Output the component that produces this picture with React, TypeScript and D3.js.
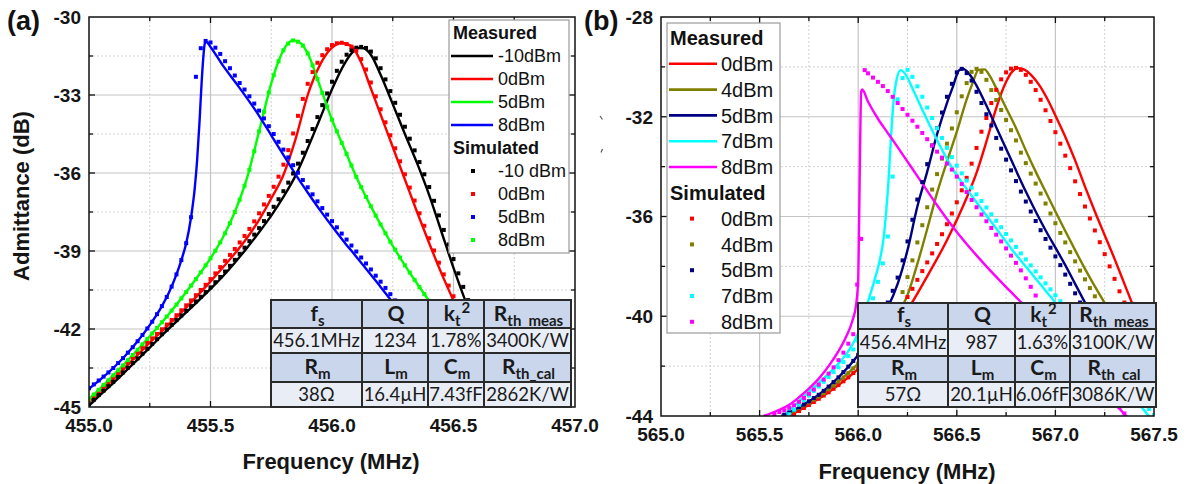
import React, { useEffect, useRef } from "react";
import * as d3 from "d3";

type Pt = [number, number];
type Head = [string, string, string];

// ---------------- Panel (a): ~456 MHz resonator ----------------
const A_X_TICKS = [455.0, 455.5, 456.0, 456.5, 457.0];
const A_X_MINOR = [455.25, 455.75, 456.25, 456.75];
const A_Y_TICKS = [-30, -33, -36, -39, -42, -45];
const A_Y_MINOR = [-31.5, -34.5, -37.5, -40.5, -43.5];

const A_MEAS_LABELS = ["-10dBm", "0dBm", "5dBm", "8dBm"];
const A_MEAS_COLORS = ["#000000", "#ff0000", "#00ff00", "#0000ff"];
const A_SIM_LABELS = ["-10 dBm", "0dBm", "5dBm", "8dBm"];
const A_SIM_COLORS = ["#000000", "#ff0000", "#0000ff", "#00ff00"];

const A_MEAS_M10: Pt[] = [[455.00,-44.95],[455.05,-44.50],[455.10,-44.08],[455.15,-43.63],[455.20,-43.18],[455.25,-42.72],[455.30,-42.25],[455.35,-41.80],[455.40,-41.36],[455.45,-40.92],[455.50,-40.46],[455.55,-39.98],[455.60,-39.45],[455.65,-38.88],[455.70,-38.28],[455.75,-37.64],[455.80,-36.92],[455.85,-36.10],[455.90,-35.05],[455.95,-33.92],[456.00,-32.78],[456.05,-31.82],[456.08,-31.40],[456.11,-31.19],[456.13,-31.20],[456.16,-31.45],[456.20,-32.22],[456.25,-33.35],[456.30,-34.50],[456.35,-35.62],[456.40,-36.85],[456.45,-38.25],[456.50,-39.65],[456.55,-40.95],[456.60,-42.15],[456.65,-43.25],[456.70,-44.25],[456.75,-45.15]];
const A_MEAS_0: Pt[] = [[455.00,-44.80],[455.05,-44.37],[455.10,-43.93],[455.15,-43.47],[455.20,-43.00],[455.25,-42.52],[455.30,-42.08],[455.35,-41.63],[455.40,-41.17],[455.45,-40.68],[455.50,-40.17],[455.55,-39.64],[455.60,-39.10],[455.65,-38.50],[455.70,-37.80],[455.75,-36.98],[455.80,-36.08],[455.85,-34.70],[455.90,-33.00],[455.95,-31.85],[456.00,-31.18],[456.04,-31.00],[456.08,-31.12],[456.12,-31.75],[456.16,-32.75],[456.20,-33.75],[456.25,-35.00],[456.30,-36.25],[456.35,-37.50],[456.40,-38.70],[456.45,-39.85],[456.50,-40.90],[456.55,-41.90],[456.60,-42.85],[456.65,-43.75],[456.70,-44.60],[456.75,-45.40]];
const A_MEAS_5: Pt[] = [[455.00,-44.70],[455.05,-44.25],[455.10,-43.78],[455.15,-43.30],[455.20,-42.80],[455.25,-42.28],[455.30,-41.74],[455.35,-41.18],[455.40,-40.58],[455.45,-39.95],[455.50,-39.28],[455.55,-38.50],[455.60,-37.50],[455.65,-36.20],[455.70,-34.40],[455.75,-32.55],[455.78,-31.70],[455.81,-31.12],[455.84,-30.90],[455.87,-31.00],[455.90,-31.40],[455.95,-32.65],[456.00,-33.95],[456.05,-35.05],[456.10,-36.15],[456.15,-37.10],[456.20,-37.98],[456.25,-38.80],[456.30,-39.55],[456.35,-40.25],[456.40,-40.92],[456.45,-41.55],[456.50,-42.15],[456.55,-42.75],[456.60,-43.30],[456.65,-43.85],[456.70,-44.40],[456.75,-44.90],[456.80,-45.40]];
const A_MEAS_8: Pt[] = [[455.00,-44.30],[455.05,-43.92],[455.10,-43.50],[455.15,-43.02],[455.20,-42.47],[455.25,-41.85],[455.30,-41.12],[455.33,-40.58],[455.36,-39.90],[455.38,-39.35],[455.40,-38.70],[455.42,-37.70],[455.435,-36.60],[455.445,-35.50],[455.455,-34.00],[455.463,-32.60],[455.470,-31.60],[455.477,-31.00],[455.482,-30.95],[455.50,-31.15],[455.55,-31.85],[455.60,-32.48],[455.65,-33.12],[455.70,-33.80],[455.75,-34.55],[455.80,-35.30],[455.85,-36.05],[455.90,-36.75],[455.95,-37.42],[456.00,-38.05],[456.05,-38.65],[456.10,-39.22],[456.15,-39.80],[456.20,-40.38],[456.25,-40.98],[456.30,-41.60],[456.35,-42.20],[456.40,-42.80],[456.45,-43.40],[456.50,-44.00],[456.55,-44.60],[456.60,-45.20]];

const A_SIM_M10: Pt[] = [[455.00,-44.90],[455.02,-44.72],[455.04,-44.54],[455.06,-44.37],[455.08,-44.20],[455.10,-44.03],[455.12,-43.85],[455.14,-43.67],[455.16,-43.49],[455.18,-43.31],[455.20,-43.13],[455.22,-42.95],[455.24,-42.76],[455.26,-42.57],[455.28,-42.39],[455.30,-42.20],[455.32,-42.02],[455.34,-41.84],[455.36,-41.66],[455.38,-41.48],[455.40,-41.30],[455.42,-41.12],[455.44,-40.94],[455.46,-40.76],[455.48,-40.58],[455.50,-40.40],[455.52,-40.20],[455.54,-40.00],[455.56,-39.79],[455.58,-39.57],[455.60,-39.34],[455.62,-39.11],[455.64,-38.87],[455.66,-38.62],[455.68,-38.37],[455.70,-38.12],[455.72,-37.85],[455.74,-37.58],[455.76,-37.30],[455.78,-37.01],[455.80,-36.70],[455.82,-36.37],[455.84,-36.02],[455.86,-35.64],[455.88,-35.22],[455.90,-34.77],[455.92,-34.31],[455.94,-33.85],[455.96,-33.39],[455.98,-32.94],[456.00,-32.49],[456.02,-32.07],[456.04,-31.72],[456.06,-31.45],[456.08,-31.27],[456.10,-31.18],[456.12,-31.15],[456.14,-31.19],[456.16,-31.33],[456.18,-31.59],[456.20,-31.97],[456.22,-32.40],[456.24,-32.85],[456.26,-33.30],[456.28,-33.76],[456.30,-34.22],[456.32,-34.68],[456.34,-35.13],[456.36,-35.58],[456.38,-36.05],[456.40,-36.54],[456.42,-37.07],[456.44,-37.63],[456.46,-38.19],[456.48,-38.75],[456.50,-39.31],[456.52,-39.86],[456.54,-40.38],[456.56,-40.89],[456.58,-41.38]];
const A_SIM_0: Pt[] = [[455.00,-44.73],[455.02,-44.55],[455.04,-44.38],[455.06,-44.21],[455.08,-44.03],[455.10,-43.86],[455.12,-43.68],[455.14,-43.49],[455.16,-43.30],[455.18,-43.11],[455.20,-42.92],[455.22,-42.73],[455.24,-42.54],[455.26,-42.36],[455.28,-42.19],[455.30,-42.01],[455.32,-41.83],[455.34,-41.65],[455.36,-41.47],[455.38,-41.28],[455.40,-41.09],[455.42,-40.90],[455.44,-40.70],[455.46,-40.50],[455.48,-40.30],[455.50,-40.08],[455.52,-39.86],[455.54,-39.62],[455.56,-39.38],[455.58,-39.15],[455.60,-38.92],[455.62,-38.67],[455.64,-38.42],[455.66,-38.15],[455.68,-37.86],[455.70,-37.55],[455.72,-37.21],[455.74,-36.88],[455.76,-36.53],[455.78,-36.14],[455.80,-35.68],[455.82,-35.12],[455.84,-34.48],[455.86,-33.80],[455.88,-33.15],[455.90,-32.57],[455.92,-32.12],[455.94,-31.76],[455.96,-31.47],[455.98,-31.24],[456.00,-31.08],[456.02,-31.01],[456.04,-30.99],[456.06,-31.04],[456.08,-31.14],[456.10,-31.30],[456.12,-31.62],[456.14,-32.02],[456.16,-32.52],[456.18,-33.05],[456.20,-33.55],[456.22,-34.05],[456.24,-34.55],[456.26,-35.05],[456.28,-35.55],[456.30,-36.05],[456.32,-36.56],[456.34,-37.06],[456.36,-37.55],[456.38,-38.03],[456.40,-38.51],[456.42,-38.98],[456.44,-39.45],[456.46,-39.90],[456.48,-40.33],[456.50,-40.74],[456.52,-41.12]];
const A_SIM_5: Pt[] = [[455.00,-44.28],[455.02,-44.13],[455.04,-43.98],[455.06,-43.83],[455.08,-43.67],[455.10,-43.50],[455.12,-43.31],[455.14,-43.12],[455.16,-42.91],[455.18,-42.70],[455.20,-42.47],[455.22,-42.23],[455.24,-41.98],[455.26,-41.72],[455.28,-41.43],[455.30,-41.12],[455.32,-40.77],[455.34,-40.37],[455.36,-39.90],[455.38,-39.35],[455.40,-38.70],[455.42,-37.70],[455.44,-32.30],[455.46,-31.20],[455.48,-30.92],[455.50,-30.98],[455.52,-31.18],[455.54,-31.42],[455.56,-31.70],[455.58,-31.97],[455.60,-32.25],[455.62,-32.54],[455.64,-32.79],[455.66,-33.05],[455.68,-33.33],[455.70,-33.60],[455.72,-33.90],[455.74,-34.20],[455.76,-34.50],[455.78,-34.80],[455.80,-35.10],[455.82,-35.40],[455.84,-35.70],[455.86,-35.99],[455.88,-36.27],[455.90,-36.55],[455.92,-36.82],[455.94,-37.09],[455.96,-37.35],[455.98,-37.60],[456.00,-37.85],[456.02,-38.09],[456.04,-38.33],[456.06,-38.56],[456.08,-38.79],[456.10,-39.02],[456.12,-39.25],[456.14,-39.48],[456.16,-39.71],[456.18,-39.95],[456.20,-40.18],[456.22,-40.42],[456.24,-40.66],[456.26,-40.90],[456.28,-41.14]];
const A_SIM_8: Pt[] = [[455.00,-44.70],[455.02,-44.52],[455.04,-44.34],[455.06,-44.15],[455.08,-43.97],[455.10,-43.78],[455.12,-43.59],[455.14,-43.40],[455.16,-43.20],[455.18,-43.00],[455.20,-42.80],[455.22,-42.59],[455.24,-42.38],[455.26,-42.17],[455.28,-41.96],[455.30,-41.74],[455.32,-41.52],[455.34,-41.29],[455.36,-41.06],[455.38,-40.82],[455.40,-40.58],[455.42,-40.33],[455.44,-40.08],[455.46,-39.82],[455.48,-39.55],[455.50,-39.28],[455.52,-38.99],[455.54,-38.67],[455.56,-38.32],[455.58,-37.93],[455.60,-37.50],[455.62,-37.03],[455.64,-36.49],[455.66,-35.88],[455.68,-35.16],[455.70,-34.40],[455.72,-33.64],[455.74,-32.90],[455.76,-32.24],[455.78,-31.70],[455.80,-31.28],[455.82,-31.02],[455.84,-30.90],[455.86,-30.95],[455.88,-31.10],[455.90,-31.40],[455.92,-31.86],[455.94,-32.38],[455.96,-32.92],[455.98,-33.45],[456.00,-33.95],[456.02,-34.40],[456.04,-34.84],[456.06,-35.27],[456.08,-35.71],[456.10,-36.15],[456.12,-36.54],[456.14,-36.92],[456.16,-37.28],[456.18,-37.64],[456.20,-37.98],[456.22,-38.32],[456.24,-38.64],[456.26,-38.95],[456.28,-39.25],[456.30,-39.55],[456.32,-39.83],[456.34,-40.11],[456.36,-40.39],[456.38,-40.66],[456.40,-40.92],[456.42,-41.18]];

const A_PARAM_VALUES = ["456.1MHz", "1234", "1.78%", "3400K/W"];
const A_CIRCUIT_VALUES = ["38Ω", "16.4µH", "7.43fF", "2862K/W"];

// ---------------- Panel (b): ~566 MHz resonator ----------------
const B_X_TICKS = [565.0, 565.5, 566.0, 566.5, 567.0, 567.5];
const B_X_MINOR = [565.25, 565.75, 566.25, 566.75, 567.25];
const B_Y_TICKS = [-28, -32, -36, -40, -44];
const B_Y_MINOR = [-30, -34, -38, -42];

const B_LABELS = ["0dBm", "4dBm", "5dBm", "7dBm", "8dBm"];
const B_COLORS = ["#ff0000", "#808000", "#000080", "#00ffff", "#ff00ff"];

const B_MEAS_0: Pt[] = [[565.65,-44.0],[565.75,-43.55],[565.85,-43.05],[565.95,-42.45],[566.05,-41.75],[566.15,-40.85],[566.25,-39.75],[566.35,-38.40],[566.45,-36.95],[566.55,-35.25],[566.60,-34.25],[566.65,-33.00],[566.70,-31.65],[566.75,-30.60],[566.78,-30.20],[566.81,-30.05],[566.84,-30.10],[566.88,-30.35],[566.92,-30.75],[566.96,-31.30],[567.00,-31.95],[567.05,-32.80],[567.10,-33.75],[567.15,-34.80],[567.20,-35.80],[567.25,-36.75],[567.30,-37.70],[567.35,-38.70],[567.40,-39.70],[567.45,-40.65],[567.50,-41.55]];
const B_MEAS_4: Pt[] = [[565.62,-44.0],[565.70,-43.68],[565.80,-43.22],[565.90,-42.62],[566.00,-41.90],[566.10,-41.10],[566.15,-40.55],[566.20,-39.95],[566.25,-39.15],[566.30,-37.90],[566.35,-36.50],[566.40,-35.05],[566.45,-33.80],[566.50,-32.60],[566.55,-31.30],[566.58,-30.65],[566.61,-30.12],[566.64,-30.10],[566.67,-30.40],[566.70,-30.85],[566.75,-31.65],[566.80,-32.45],[566.85,-33.35],[566.90,-34.20],[566.95,-35.00],[567.00,-35.80],[567.05,-36.58],[567.10,-37.35],[567.15,-38.10],[567.20,-38.80],[567.25,-39.47],[567.30,-40.15],[567.35,-40.85],[567.40,-41.55],[567.45,-42.20],[567.50,-42.85]];
const B_MEAS_5: Pt[] = [[565.61,-44.0],[565.70,-43.65],[565.80,-43.15],[565.90,-42.45],[566.00,-41.55],[566.05,-41.00],[566.10,-40.35],[566.15,-39.65],[566.20,-38.70],[566.25,-37.35],[566.30,-35.60],[566.35,-34.20],[566.40,-32.70],[566.45,-31.45],[566.48,-30.80],[566.51,-30.15],[566.53,-30.07],[566.56,-30.25],[566.60,-30.75],[566.65,-31.55],[566.70,-32.42],[566.75,-33.28],[566.80,-34.15],[566.85,-35.00],[566.90,-35.80],[566.95,-36.55],[567.00,-37.25],[567.05,-37.95],[567.10,-38.70],[567.15,-39.45],[567.20,-40.15],[567.25,-40.80],[567.30,-41.45],[567.35,-42.05],[567.40,-42.60],[567.45,-43.10],[567.50,-43.55]];
const B_MEAS_7: Pt[] = [[565.62,-44.0],[565.70,-43.40],[565.80,-42.67],[565.90,-41.90],[565.95,-41.40],[566.00,-40.67],[566.03,-39.95],[566.06,-39.15],[566.09,-38.35],[566.11,-37.73],[566.13,-36.80],[566.145,-35.50],[566.155,-34.40],[566.165,-33.00],[566.18,-31.30],[566.195,-30.50],[566.215,-30.13],[566.24,-30.30],[566.28,-30.95],[566.33,-31.80],[566.38,-32.62],[566.43,-33.40],[566.48,-34.10],[566.53,-34.68],[566.58,-35.22],[566.63,-35.75],[566.68,-36.27],[566.73,-36.80],[566.78,-37.33],[566.83,-37.82],[566.88,-38.30],[566.93,-38.78],[566.98,-39.26],[567.03,-39.74],[567.08,-40.22],[567.13,-40.70],[567.18,-41.18],[567.23,-41.66],[567.28,-42.14],[567.33,-42.62],[567.38,-43.10],[567.43,-43.58],[567.48,-44.06]];
const B_MEAS_8: Pt[] = [[565.52,-44.0],[565.60,-43.75],[565.65,-43.55],[565.70,-43.25],[565.75,-42.90],[565.80,-42.50],[565.85,-42.00],[565.90,-41.40],[565.94,-40.80],[565.97,-40.20],[565.99,-39.50],[566.00,-38.50],[566.005,-36.00],[566.01,-33.00],[566.015,-31.00],[566.02,-30.91],[566.05,-31.40],[566.10,-32.08],[566.15,-32.65],[566.20,-33.22],[566.25,-33.80],[566.30,-34.38],[566.35,-34.97],[566.40,-35.55],[566.45,-36.10],[566.50,-36.62],[566.55,-37.10],[566.60,-37.56],[566.65,-38.00],[566.70,-38.42],[566.75,-38.83],[566.80,-39.23],[566.85,-39.63],[566.90,-40.03],[566.95,-40.45],[567.00,-40.85],[567.10,-41.72],[567.20,-42.60],[567.30,-43.48],[567.38,-44.20]];

const B_SIM_0: Pt[] = [[565.650,-44.02],[565.675,-43.92],[565.700,-43.80],[565.725,-43.68],[565.750,-43.56],[565.775,-43.44],[565.800,-43.31],[565.825,-43.18],[565.850,-43.05],[565.875,-42.91],[565.900,-42.76],[565.925,-42.61],[565.950,-42.45],[565.975,-42.28],[566.000,-42.10],
  [566.250,-39.23],[566.275,-38.90],[566.300,-38.54],[566.325,-38.19],[566.350,-37.84],[566.375,-37.48],[566.400,-37.10],[566.425,-36.71],[566.450,-36.31],[566.475,-35.88],[566.500,-35.43],[566.525,-34.95],[566.550,-34.45],[566.575,-33.88],[566.600,-33.25],[566.625,-32.60],[566.650,-32.05],[566.675,-31.45],[566.700,-30.92],[566.725,-30.50],[566.750,-30.22],[566.775,-30.07],[566.800,-30.04],[566.825,-30.12],[566.850,-30.32],[566.875,-30.60],[566.900,-30.93],[566.925,-31.32],[566.950,-31.74],[566.975,-32.17],[567.000,-32.62],[567.025,-33.08],[567.050,-33.56],[567.075,-34.06],[567.100,-34.59],[567.125,-35.10],[567.150,-35.60],[567.175,-36.08],[567.200,-36.56],[567.225,-37.03],[567.250,-37.51],[567.275,-38.00],[567.300,-38.50],[567.325,-39.00],[567.350,-39.45]];
const B_SIM_4: Pt[] = [[565.625,-43.98],[565.650,-43.88],[565.675,-43.79],[565.700,-43.68],[565.725,-43.57],[565.750,-43.46],[565.775,-43.34],[565.800,-43.22],[565.825,-43.08],[565.850,-42.93],[565.875,-42.78],[565.900,-42.62],[565.925,-42.45],[565.950,-42.28],[565.975,-42.09],[566.000,-41.90],
  [566.225,-39.03],[566.250,-38.43],[566.275,-37.76],[566.300,-37.04],[566.325,-36.35],[566.350,-35.63],[566.375,-34.92],[566.400,-34.30],[566.425,-33.68],[566.450,-33.08],[566.475,-32.47],[566.500,-31.82],[566.525,-31.18],[566.550,-30.65],[566.575,-30.20],[566.600,-30.08],[566.625,-30.20],[566.650,-30.52],[566.675,-30.93],[566.700,-31.33],[566.725,-31.73],[566.750,-32.13],[566.775,-32.54],[566.800,-32.95],[566.825,-33.44],[566.850,-33.86],[566.875,-34.28],[566.900,-34.68],[566.925,-35.08],[566.950,-35.48],[566.975,-35.88],[567.000,-36.27],[567.025,-36.66],[567.050,-37.04],[567.075,-37.43],[567.100,-37.80],[567.125,-38.17],[567.150,-38.52],[567.175,-38.87],[567.200,-39.20]];
const B_SIM_5: Pt[] = [[565.625,-43.95],[565.650,-43.86],[565.675,-43.76],[565.700,-43.65],[565.725,-43.54],[565.750,-43.41],[565.775,-43.28],[565.800,-43.15],[565.825,-42.99],[565.850,-42.82],[565.875,-42.64],[565.900,-42.45],[565.925,-42.24],[565.950,-42.02],[565.975,-41.79],[566.000,-41.55],
  [566.150,-39.45],[566.175,-38.98],[566.200,-38.45],[566.225,-37.76],[566.250,-37.00],[566.275,-36.13],[566.300,-35.32],[566.325,-34.62],[566.350,-33.90],[566.375,-33.15],[566.400,-32.45],[566.425,-31.83],[566.450,-31.20],[566.475,-30.68],[566.500,-30.22],[566.525,-30.08],[566.550,-30.25],[566.575,-30.55],[566.600,-31.00],[566.625,-31.45],[566.650,-31.90],[566.675,-32.35],[566.700,-32.85],[566.725,-33.28],[566.750,-33.72],[566.775,-34.15],[566.800,-34.58],[566.825,-35.00],[566.850,-35.40],[566.875,-35.80],[566.900,-36.18],[566.925,-36.55],[566.950,-36.90],[566.975,-37.25],[567.000,-37.60],[567.025,-37.95],[567.050,-38.33],[567.075,-38.70],[567.100,-39.08],[567.125,-39.45]];
const B_SIM_7: Pt[] = [[565.650,-43.93],[565.675,-43.75],[565.700,-43.55],[565.725,-43.36],[565.750,-43.18],[565.775,-43.00],[565.800,-42.82],[565.825,-42.63],[565.850,-42.44],[565.875,-42.24],[565.900,-42.05],[565.925,-41.84],[565.950,-41.60],[565.975,-41.33],[566.000,-40.98],
  [566.075,-39.28],[566.100,-38.62],[566.125,-37.88],[566.150,-36.80],[566.175,-34.40],[566.200,-31.30],[566.225,-30.45],[566.250,-30.12],[566.275,-30.40],[566.300,-30.78],[566.325,-31.20],[566.350,-31.63],[566.375,-32.05],[566.400,-32.46],[566.425,-32.85],[566.450,-33.25],[566.475,-33.62],[566.500,-33.96],[566.525,-34.27],[566.550,-34.56],[566.575,-34.84],[566.600,-35.11],[566.625,-35.38],[566.650,-35.64],[566.675,-35.91],[566.700,-36.17],[566.725,-36.43],[566.750,-36.70],[566.775,-36.96],[566.800,-37.22],[566.825,-37.48],[566.850,-37.72],[566.875,-37.96],[566.900,-38.20],[566.925,-38.44],[566.950,-38.68],[566.975,-38.92],[567.000,-39.16],[567.025,-39.40],
  [567.475,-43.72],[567.500,-43.96]];
const B_SIM_8: Pt[] = [[565.575,-43.92],[565.600,-43.84],[565.625,-43.77],[565.650,-43.67],[565.675,-43.57],[565.700,-43.43],[565.725,-43.28],[565.750,-43.11],[565.775,-42.94],[565.800,-42.74],[565.825,-42.54],[565.850,-42.30],[565.875,-42.05],[565.900,-41.76],[565.925,-41.46],[565.950,-41.10],[565.975,-40.72],[565.995,-38.73],[566.015,-36.90],
  [566.033,-30.13],[566.050,-30.26],[566.075,-30.43],[566.100,-30.60],[566.125,-30.77],[566.150,-30.97],[566.175,-31.20],[566.200,-31.45],[566.225,-31.69],[566.250,-31.92],[566.275,-32.16],[566.300,-32.40],[566.325,-32.65],[566.350,-32.90],[566.375,-33.15],[566.400,-33.40],[566.425,-33.64],[566.450,-33.88],[566.475,-34.12],[566.500,-34.40],[566.525,-34.70],[566.550,-35.02],[566.575,-35.34],[566.600,-35.63],[566.625,-35.92],[566.650,-36.19],[566.675,-36.46],[566.700,-36.73],[566.725,-37.00],[566.750,-37.28],[566.775,-37.57],[566.800,-37.86],[566.825,-38.16],[566.850,-38.48],[566.875,-38.82],[566.900,-39.17],
  [567.325,-43.65],[567.350,-43.90]];

const B_PARAM_VALUES = ["456.4MHz", "987", "1.63%", "3100K/W"];
const B_CIRCUIT_VALUES = ["57Ω", "20.1µH", "6.06fF", "3086K/W"];

// Table headers shared by both panels: [symbol, subscript, superscript]
const PARAM_HEADS: Head[] = [["f", "s", ""], ["Q", "", ""], ["k", "t", "2"], ["R", "th_meas", ""]];
const CIRCUIT_HEADS: Head[] = [["R", "m", ""], ["L", "m", ""], ["C", "m", ""], ["R", "th_cal", ""]];

// ---------------- drawing ----------------
const AXIS_FONT = "'Liberation Sans', Arial, sans-serif";
const TABLE_FONT = "Lato, 'Open Sans', sans-serif";
const HEAD_FILL = "#c9d6ec";
const VALUE_FILL = "#e8edf6";

interface Series { color: string; data: Pt[] }
interface LegendSpec {
  x: number; y: number; w: number; h: number;
  firstY: number; step: number; font: number;
  titleX: number; lineX0: number; lineX1: number; dotX: number; textX: number;
  measLabels: string[]; simLabels: string[];
}
interface TableSpec {
  cols: number[]; rows: number[];
  paramValues: string[]; circuitValues: string[];
  headSize: number; subSize: number; valueSize: number;
}
interface PanelSpec {
  id: string; tag: string; tagX: number;
  frame: [number, number, number, number];
  xDomain: [number, number]; yDomain: [number, number];
  xTicks: number[]; xMinor: number[]; yTicks: number[]; yMinor: number[];
  xTitleX: number; xTitleY: number; yTitle: boolean;
  measured: Series[]; simulated: Series[];
  legend: LegendSpec; table: TableSpec;
}

function drawPanel(svg: any, defs: any, p: PanelSpec) {
  const [fx0, fy0, fx1, fy1] = p.frame;
  const x = d3.scaleLinear().domain(p.xDomain).range([fx0, fx1]);
  const y = d3.scaleLinear().domain(p.yDomain).range([fy1, fy0]);
  const g = svg.append("g");

  defs.append("clipPath").attr("id", `${p.id}-clip`)
    .append("rect").attr("x", fx0).attr("y", fy0).attr("width", fx1 - fx0).attr("height", fy1 - fy0);

  // grid
  const inside = (lo: number, hi: number) => (d: number) => d > lo + 1e-9 && d < hi - 1e-9;
  const grid = g.append("g");
  grid.selectAll("line.xm").data(p.xMinor).join("line")
    .attr("x1", (d: number) => x(d)).attr("x2", (d: number) => x(d)).attr("y1", fy0).attr("y2", fy1)
    .attr("stroke", "#d2d2d2").attr("stroke-width", 1).attr("stroke-dasharray", "2,2");
  grid.selectAll("line.ym").data(p.yMinor).join("line")
    .attr("y1", (d: number) => y(d)).attr("y2", (d: number) => y(d)).attr("x1", fx0).attr("x2", fx1)
    .attr("stroke", "#d2d2d2").attr("stroke-width", 1).attr("stroke-dasharray", "2,2");
  grid.selectAll("line.xM").data(p.xTicks.filter(inside(p.xDomain[0], p.xDomain[1]))).join("line")
    .attr("x1", (d: number) => x(d)).attr("x2", (d: number) => x(d)).attr("y1", fy0).attr("y2", fy1)
    .attr("stroke", "#c4c4c4").attr("stroke-width", 1.2);
  grid.selectAll("line.yM").data(p.yTicks.filter(inside(p.yDomain[0], p.yDomain[1]))).join("line")
    .attr("y1", (d: number) => y(d)).attr("y2", (d: number) => y(d)).attr("x1", fx0).attr("x2", fx1)
    .attr("stroke", "#c4c4c4").attr("stroke-width", 1.2);

  // curves
  const plot = g.append("g").attr("clip-path", `url(#${p.id}-clip)`);
  const line = d3.line<Pt>().x((d) => x(d[0])).y((d) => y(d[1])).curve(d3.curveMonotoneX);
  p.measured.forEach((s) => {
    plot.append("path").attr("d", line(s.data)).attr("fill", "none")
      .attr("stroke", s.color).attr("stroke-width", 2.4).attr("stroke-linejoin", "round");
  });
  p.simulated.forEach((s) => {
    plot.append("g").selectAll("rect").data(s.data).join("rect")
      .attr("x", (d: Pt) => x(d[0]) - 2).attr("y", (d: Pt) => y(d[1]) - 2)
      .attr("width", 4).attr("height", 4).attr("fill", s.color);
  });

  // frame and inward ticks
  g.append("rect").attr("x", fx0).attr("y", fy0).attr("width", fx1 - fx0).attr("height", fy1 - fy0)
    .attr("fill", "none").attr("stroke", "#111").attr("stroke-width", 1.5);
  const ticks = g.append("g").attr("stroke", "#111").attr("stroke-width", 1.3);
  const addX = (vals: number[], len: number) => vals.filter(inside(p.xDomain[0], p.xDomain[1])).forEach((v) => {
    ticks.append("line").attr("x1", x(v)).attr("x2", x(v)).attr("y1", fy1).attr("y2", fy1 - len);
    ticks.append("line").attr("x1", x(v)).attr("x2", x(v)).attr("y1", fy0).attr("y2", fy0 + len);
  });
  const addY = (vals: number[], len: number) => vals.filter(inside(p.yDomain[0], p.yDomain[1])).forEach((v) => {
    ticks.append("line").attr("y1", y(v)).attr("y2", y(v)).attr("x1", fx0).attr("x2", fx0 + len);
    ticks.append("line").attr("y1", y(v)).attr("y2", y(v)).attr("x1", fx1).attr("x2", fx1 - len);
  });
  addX(p.xTicks, 6); addX(p.xMinor, 4); addY(p.yTicks, 6); addY(p.yMinor, 4);

  // tick labels
  const fmtX = d3.format(".1f");
  g.append("g").selectAll("text").data(p.xTicks).join("text")
    .attr("x", (d: number) => x(d)).attr("y", fy1 + 25).attr("text-anchor", "middle")
    .attr("font-family", AXIS_FONT).attr("font-weight", 700).attr("font-size", 19).attr("fill", "#151515")
    .text((d: number) => fmtX(d));
  g.append("g").selectAll("text").data(p.yTicks).join("text")
    .attr("x", fx0 - 8).attr("y", (d: number) => y(d)).attr("dy", "0.36em").attr("text-anchor", "end")
    .attr("font-family", AXIS_FONT).attr("font-weight", 700).attr("font-size", 19).attr("fill", "#151515")
    .text((d: number) => String(d));

  // titles
  g.append("text").attr("x", p.xTitleX).attr("y", p.xTitleY).attr("text-anchor", "middle")
    .attr("font-family", AXIS_FONT).attr("font-weight", 700).attr("font-size", 22).attr("fill", "#151515")
    .text("Frequency (MHz)");
  if (p.yTitle) {
    g.append("text").attr("transform", "translate(29,196) rotate(-90)").attr("text-anchor", "middle")
      .attr("font-family", AXIS_FONT).attr("font-weight", 700).attr("font-size", 22).attr("fill", "#151515")
      .text("Admittance (dB)");
  }
  g.append("text").attr("x", p.tagX).attr("y", 30)
    .attr("font-family", AXIS_FONT).attr("font-weight", 700).attr("font-size", 27).attr("fill", "#111")
    .text(p.tag);

  drawTable(g, p.table);
  drawLegend(g, p.legend, p.measured, p.simulated);
}

function drawTable(g: any, t: TableSpec) {
  const tg = g.append("g");
  const { cols, rows } = t;
  const fills = [HEAD_FILL, VALUE_FILL, HEAD_FILL, VALUE_FILL];
  fills.forEach((f, i) => {
    tg.append("rect").attr("x", cols[0]).attr("y", rows[i]).attr("width", cols[4] - cols[0])
      .attr("height", rows[i + 1] - rows[i]).attr("fill", f);
  });
  const heads = [PARAM_HEADS, null, CIRCUIT_HEADS, null];
  const values = [null, t.paramValues, null, t.circuitValues];
  for (let r = 0; r < 4; r++) {
    const h = rows[r + 1] - rows[r];
    for (let c = 0; c < 4; c++) {
      const cx = (cols[c] + cols[c + 1]) / 2;
      const head = heads[r];
      if (head) {
        const [main, sub, sup] = head[c];
        const txt = tg.append("text").attr("x", cx + 1).attr("y", rows[r] + h * 0.74)
          .attr("text-anchor", "middle").attr("font-family", TABLE_FONT).attr("font-weight", 700)
          .attr("font-size", t.headSize).attr("fill", "#1a1a1a");
        txt.append("tspan").text(main);
        if (sub) txt.append("tspan").attr("font-size", t.subSize).attr("dy", 5).text(sub);
        if (sup) txt.append("tspan").attr("font-size", t.subSize).attr("dy", -13).attr("dx", 1).text(sup);
      } else {
        tg.append("text").attr("x", cx).attr("y", rows[r] + h * 0.74)
          .attr("text-anchor", "middle").attr("font-family", TABLE_FONT).attr("font-weight", 400)
          .attr("font-size", t.valueSize).attr("fill", "#1a1a1a").text(values[r]![c]);
      }
    }
  }
  const border = tg.append("g").attr("stroke", "#2a2a2a").attr("stroke-width", 2);
  cols.forEach((cx) => border.append("line").attr("x1", cx).attr("x2", cx).attr("y1", rows[0]).attr("y2", rows[4]));
  rows.forEach((ry) => border.append("line").attr("x1", cols[0] - 1).attr("x2", cols[4] + 1).attr("y1", ry).attr("y2", ry));
}

function drawLegend(g: any, L: LegendSpec, measured: Series[], simulated: Series[]) {
  const lg = g.append("g");
  lg.append("rect").attr("x", L.x).attr("y", L.y).attr("width", L.w).attr("height", L.h)
    .attr("fill", "#ffffff").attr("stroke", "#9a9a9a").attr("stroke-width", 1.2);
  const rowY = (i: number) => L.firstY + L.step * i;
  const text = (x: number, yy: number, s: string, bold: boolean) =>
    lg.append("text").attr("x", x).attr("y", yy).attr("dy", "0.36em")
      .attr("font-family", AXIS_FONT).attr("font-weight", bold ? 700 : 400)
      .attr("font-size", L.font).attr("fill", "#111").text(s);
  text(L.titleX, rowY(0), "Measured", true);
  measured.forEach((s, i) => {
    const yy = rowY(i + 1);
    lg.append("line").attr("x1", L.lineX0).attr("x2", L.lineX1).attr("y1", yy).attr("y2", yy)
      .attr("stroke", s.color).attr("stroke-width", 2.6);
    text(L.textX, yy, L.measLabels[i], false);
  });
  const off = measured.length + 1;
  text(L.titleX, rowY(off), "Simulated", true);
  simulated.forEach((s, i) => {
    const yy = rowY(off + 1 + i);
    lg.append("rect").attr("x", L.dotX - 2).attr("y", yy - 2).attr("width", 4).attr("height", 4).attr("fill", s.color);
    text(L.textX, yy, L.simLabels[i], false);
  });
}

const PANEL_A: PanelSpec = {
  id: "pa", tag: "(a)", tagX: 7,
  frame: [89, 17, 575, 407],
  xDomain: [455, 457], yDomain: [-45, -30],
  xTicks: A_X_TICKS, xMinor: A_X_MINOR, yTicks: A_Y_TICKS, yMinor: A_Y_MINOR,
  xTitleX: 331, xTitleY: 469, yTitle: true,
  measured: [A_MEAS_M10, A_MEAS_0, A_MEAS_5, A_MEAS_8].map((data, i) => ({ color: A_MEAS_COLORS[i], data })),
  simulated: [A_SIM_M10, A_SIM_0, A_SIM_5, A_SIM_8].map((data, i) => ({ color: A_SIM_COLORS[i], data })),
  legend: {
    x: 449, y: 20, w: 120, h: 233, firstY: 33, step: 23, font: 18,
    titleX: 453, lineX0: 451, lineX1: 493, dotX: 473, textX: 498,
    measLabels: A_MEAS_LABELS, simLabels: A_SIM_LABELS,
  },
  table: {
    cols: [271, 362, 428, 484, 571], rows: [300, 328, 353, 382, 407],
    paramValues: A_PARAM_VALUES, circuitValues: A_CIRCUIT_VALUES,
    headSize: 21, subSize: 15, valueSize: 18.5,
  },
};

const PANEL_B: PanelSpec = {
  id: "pb", tag: "(b)", tagX: 584,
  frame: [661, 17, 1154, 416],
  xDomain: [565, 567.5], yDomain: [-44, -28],
  xTicks: B_X_TICKS, xMinor: B_X_MINOR, yTicks: B_Y_TICKS, yMinor: B_Y_MINOR,
  xTitleX: 907, xTitleY: 479, yTitle: false,
  measured: [B_MEAS_0, B_MEAS_4, B_MEAS_5, B_MEAS_7, B_MEAS_8].map((data, i) => ({ color: B_COLORS[i], data })),
  simulated: [B_SIM_0, B_SIM_4, B_SIM_5, B_SIM_7, B_SIM_8].map((data, i) => ({ color: B_COLORS[i], data })),
  legend: {
    x: 667, y: 23, w: 113, h: 310, firstY: 38, step: 25.8, font: 20,
    titleX: 670, lineX0: 669, lineX1: 717, dotX: 692, textX: 721,
    measLabels: B_LABELS, simLabels: B_LABELS,
  },
  table: {
    cols: [858, 948, 1015, 1070, 1156], rows: [303, 329, 356, 382, 407],
    paramValues: B_PARAM_VALUES, circuitValues: B_CIRCUIT_VALUES,
    headSize: 21, subSize: 15, valueSize: 18.5,
  },
};

export default function App() {
  const ref = useRef<SVGSVGElement>(null);
  useEffect(() => {
    const svg = d3.select(ref.current);
    svg.selectAll("*").remove();
    svg.append("rect").attr("width", 1188).attr("height", 484).attr("fill", "#ffffff");
    const defs = svg.append("defs");
    drawPanel(svg, defs, PANEL_A);
    drawPanel(svg, defs, PANEL_B);
    // two faint stray marks left of panel (b)'s value axis
    svg.append("path").attr("d", "M600,116 L602.5,119.5 M602.5,149 L601,152.5")
      .attr("stroke", "#555").attr("stroke-width", 1.2).attr("fill", "none");
  }, []);
  return (
    <div style={{ position: "absolute", left: 0, top: 0 }}>
      <svg ref={ref} width={1188} height={484} style={{ display: "block" }} />
    </div>
  );
}
